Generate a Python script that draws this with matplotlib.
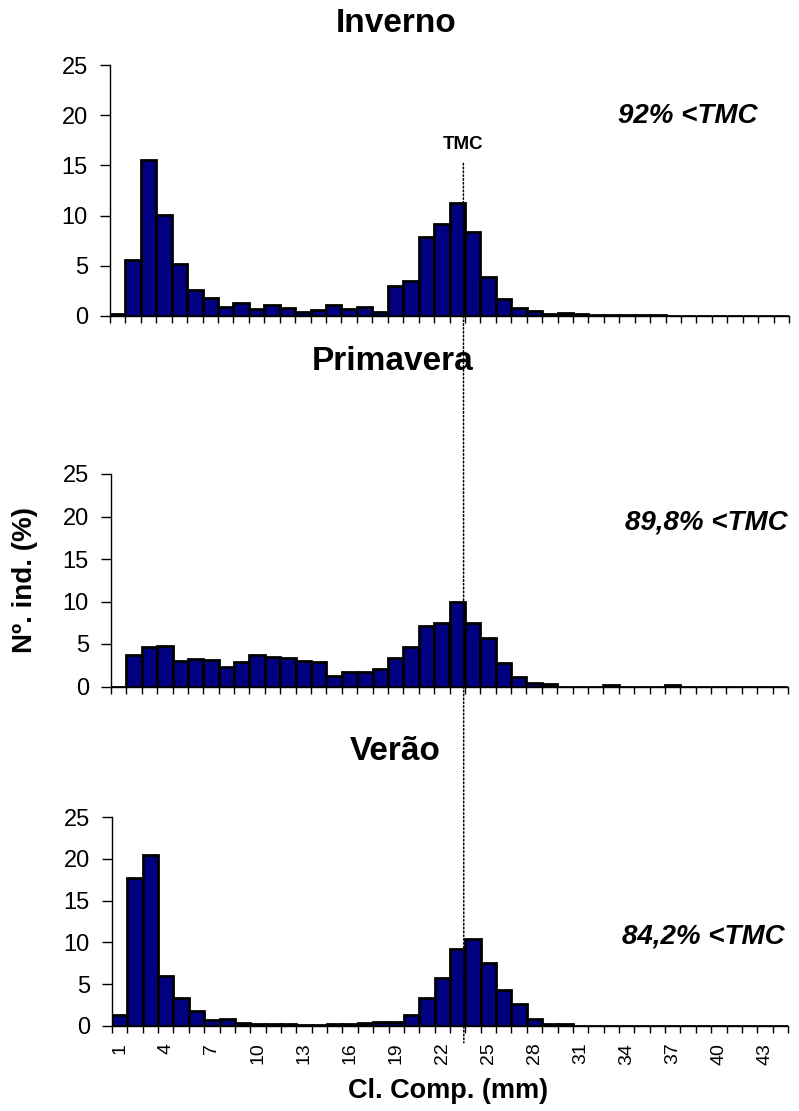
import matplotlib
matplotlib.use("Agg")
import matplotlib.pyplot as plt
from matplotlib.patches import ConnectionPatch
import numpy as np

plt.rcParams['font.family'] = ['Liberation Sans', 'DejaVu Sans']

classes = list(range(1, 45))
tick_labels = [str(c) for c in range(1, 45, 3)]

inverno = [0.2, 5.6, 15.5, 10.1, 5.2, 2.6, 1.8, 0.86, 1.3, 0.66, 1.1, 0.83, 0.43, 0.6,
           1.06, 0.73, 0.86, 0.43, 3.0, 3.5, 7.85, 9.2, 11.3, 8.35, 3.9, 1.7, 0.83, 0.46,
           0.2, 0.33, 0.17, 0.13, 0.13, 0.13, 0.1, 0.1, 0, 0, 0, 0, 0, 0, 0, 0]
primavera = [0, 3.65, 4.7, 4.8, 3.0, 3.25, 3.1, 2.3, 2.85, 3.65, 3.5, 3.4, 3.0, 2.85,
             1.26, 1.7, 1.7, 2.05, 3.4, 4.65, 7.1, 7.5, 9.9, 7.45, 5.65, 2.8, 1.06, 0.47,
             0.24, 0, 0, 0, 0.15, 0, 0, 0, 0.15, 0, 0, 0, 0, 0, 0, 0]
verao = [1.28, 17.7, 20.4, 6.0, 3.3, 1.83, 0.72, 0.88, 0.32, 0.2, 0.2, 0.2, 0.12, 0.12,
         0.2, 0.2, 0.3, 0.44, 0.44, 1.28, 3.4, 5.8, 9.2, 10.35, 7.57, 4.35, 2.67, 0.88,
         0.2, 0.2, 0, 0, 0, 0, 0, 0, 0, 0, 0, 0, 0, 0, 0, 0]

titles = ["Inverno", "Primavera", "Verão"]
pct_labels = ["92% <TMC", "89,8% <TMC", "84,2% <TMC"]
series = [inverno, primavera, verao]
TMC_POS = 23.4

W, H = 799, 1111
fig = plt.figure(figsize=(W / 100, H / 100), dpi=100)

# (left, right, y0 pixel, y25 pixel)
boxes = [(110, 789, 316, 65), (111, 788, 686.5, 474), (112, 788, 1026, 817)]
title_y = [23, 362, 752]
title_x = [396, 393, 395]
pct_pos = [(757, 116), (788, 523), (785, 937)]

axes = []
for i, (vals, box) in enumerate(zip(series, boxes)):
    l, r, y0, y25 = box
    ax = fig.add_axes([l / W, 1 - y0 / H, (r - l) / W, (y0 - y25) / H])
    ax.bar(classes, vals, width=1.0, color='#000080', edgecolor='black', linewidth=2.0)
    ax.set_xlim(0.5, 44.5)
    ax.set_ylim(0, 25)
    ax.set_yticks([0, 5, 10, 15, 20, 25])
    ax.tick_params(axis='y', labelsize=17, length=7, width=1, direction='out', pad=9)
    ax.spines['top'].set_visible(False)
    ax.spines['right'].set_visible(False)
    ax.spines['left'].set_linewidth(1)
    ax.spines['bottom'].set_linewidth(1)
    ax.set_xticks(np.arange(1, 45, 3))
    ax.set_xticks(np.arange(0.5, 45.0, 1.0), minor=True)
    ax.tick_params(axis='x', which='major', length=0, pad=12)
    ax.tick_params(axis='x', which='minor', length=5, width=1, direction='out')
    if i == 2:
        ax.set_xticklabels(tick_labels, rotation=90, fontsize=14)
    else:
        ax.set_xticklabels([])
    fig.text(title_x[i] / W, 1 - title_y[i] / H, titles[i], ha='center', va='center',
             fontsize=24, fontweight='bold')
    px, py = pct_pos[i]
    fig.text(px / W, 1 - py / H, pct_labels[i], ha='right', va='center',
             fontsize=20, fontweight='bold', style='italic')
    axes.append(ax)

axes[0].text(TMC_POS, 16.2, "TMC", ha='center', va='bottom', fontsize=13.5, fontweight='bold')

con = ConnectionPatch(xyA=(TMC_POS, 15.2), coordsA=axes[0].transData,
                      xyB=(TMC_POS, -2.0), coordsB=axes[2].transData,
                      linestyle=(0, (1, 1.5)), linewidth=1.1, color='black', zorder=5)
fig.add_artist(con)

fig.text(25 / W, 1 - 580 / H, "Nº. ind. (%)", rotation=90, ha='center', va='center',
         fontsize=20, fontweight='bold')
fig.text(448 / W, 1 - 1091 / H, "Cl. Comp. (mm)", ha='center', va='center',
         fontsize=19.5, fontweight='bold')

fig.savefig("out.png", dpi=100)
